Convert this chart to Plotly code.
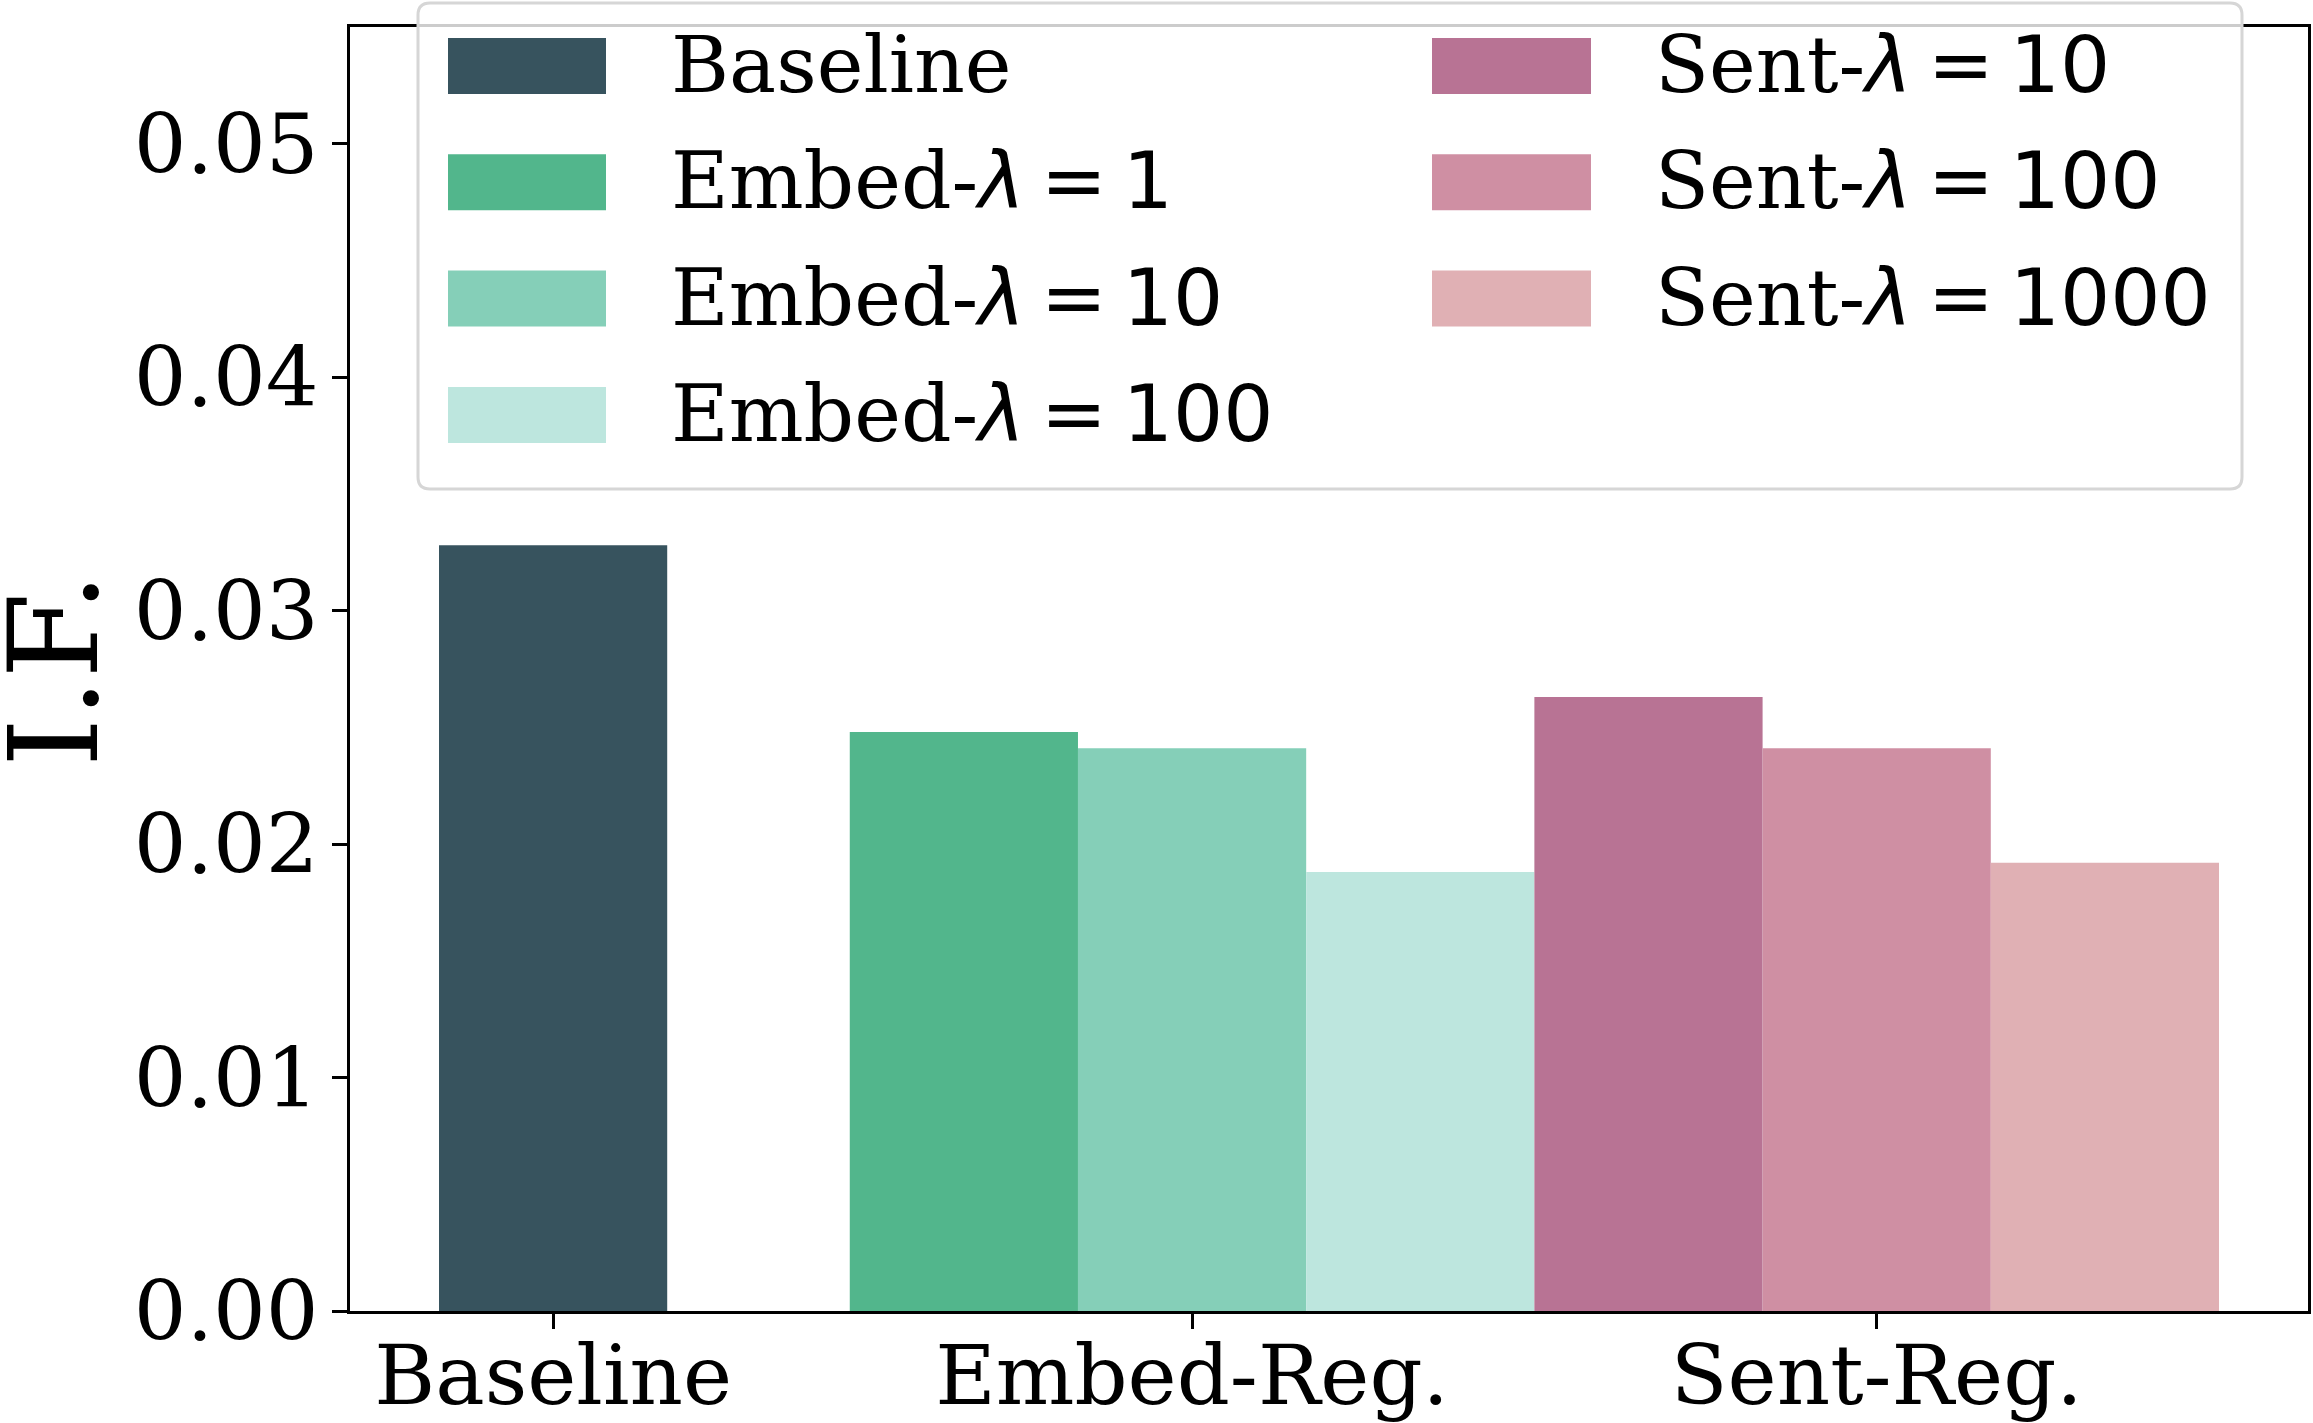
import plotly.graph_objects as go

# ---------------- data ----------------
categories = ["Baseline", "Embed-Reg.", "Sent-Reg."]
baseline_values = [0.0328]
embed_lambdas = [1, 10, 100]
embed_values = [0.0248, 0.0241, 0.0188]
sent_lambdas = [10, 100, 1000]
sent_values = [0.0263, 0.0241, 0.0192]
y_ticks = [0.00, 0.01, 0.02, 0.03, 0.04, 0.05]
y_label = "I.F."

# ---------------- styles ----------------
baseline_color = "#37535E"
embed_colors = ["#52B68C", "#85CFB8", "#BDE6DE"]
sent_colors = ["#B87394", "#CF8FA3", "#E0B0B4"]
SERIF = "DejaVu Serif"
SANS = "DejaVu Sans"
W, H = 2313, 1423
ML, MR, MT, MB = 350, 5, 27, 112

# group layout (in bar-width units)
group_starts = [0.0, 1.8, 4.8]
bar_w = 1.0

TS = "\u2009"  # thin space, like mathtext spacing


def lam_label(prefix, lam):
    return (f'{prefix}-<span style="font-family:{SANS}"><i>λ</i>{TS}={TS}{lam}</span>')


series = []  # (name, x, y, color)
series.append(("Baseline", group_starts[0], baseline_values[0], baseline_color))
for i, (lam, v) in enumerate(zip(embed_lambdas, embed_values)):
    series.append((lam_label("Embed", lam), group_starts[1] + i * bar_w, v, embed_colors[i]))
for i, (lam, v) in enumerate(zip(sent_lambdas, sent_values)):
    series.append((lam_label("Sent", lam), group_starts[2] + i * bar_w, v, sent_colors[i]))

fig = go.Figure()
for name, x, y, c in series:
    fig.add_trace(go.Bar(x=[x], y=[y], width=bar_w, name=name,
                         marker=dict(color=c, line=dict(width=0)),
                         showlegend=False))

tick_pos = [group_starts[0], group_starts[1] + bar_w, group_starts[2] + bar_w]
x_lo = -0.5 * bar_w
x_hi = group_starts[2] + 2.5 * bar_w
pad = 0.05 * (x_hi - x_lo)

axis_common = dict(showline=True, linecolor="black", linewidth=2.5, mirror=True,
                   ticks="outside", ticklen=15, tickwidth=2.5, tickcolor="black",
                   showgrid=False, zeroline=False,
                   tickfont=dict(family=SERIF, size=83, color="black"))

fig.update_xaxes(range=[x_lo - pad, x_hi + pad], tickvals=tick_pos,
                 ticktext=categories, ticklabelstandoff=-24, **axis_common)
fig.update_yaxes(range=[0, 0.055], tickvals=y_ticks, tickformat=".2f",
                 ticklabelstandoff=-3, **axis_common)

# ---------------- custom legend (matplotlib-like) ----------------
plot_w = W - ML - MR
plot_h = H - MT - MB


def px_x(p):
    return (p - ML) / plot_w


def px_y(p):
    return (H - MB - p) / plot_h


shapes = []
# legend frame (rounded, translucent)
x0, x1 = px_x(418), px_x(2242)
y0, y1 = px_y(489), px_y(3)
rx, ry = 12 / plot_w, 12 / plot_h
path = (f"M{x0+rx},{y1} L{x1-rx},{y1} Q{x1},{y1} {x1},{y1-ry} "
        f"L{x1},{y0+ry} Q{x1},{y0} {x1-rx},{y0} L{x0+rx},{y0} "
        f"Q{x0},{y0} {x0},{y0+ry} L{x0},{y1-ry} Q{x0},{y1} {x0+rx},{y1} Z")
shapes.append(dict(type="path", path=path, xref="paper", yref="paper",
                   fillcolor="rgba(255,255,255,0.8)",
                   line=dict(color="#D6D6D6", width=3), layer="above"))

legend_cols = [series[:4], series[4:]]
col_sw_x = [(448, 606), (1432, 1591)]
col_txt_x = [669, 1653]
row_c0, row_pitch, sw_h = 66, 116.3, 56

annotations = []
for ci, col in enumerate(legend_cols):
    for ri, (name, _, _, c) in enumerate(col):
        cy = row_c0 + ri * row_pitch
        shapes.append(dict(type="rect", xref="paper", yref="paper",
                           x0=px_x(col_sw_x[ci][0]), x1=px_x(col_sw_x[ci][1]),
                           y0=px_y(cy + sw_h / 2), y1=px_y(cy - sw_h / 2),
                           fillcolor=c, line=dict(width=0), layer="above"))
        annotations.append(dict(xref="paper", yref="paper", x=px_x(col_txt_x[ci]),
                                y=px_y(cy - 1), xanchor="left", yanchor="middle",
                                text=name, showarrow=False,
                                font=dict(family=SERIF, size=79, color="black")))

# y-axis title (placed like matplotlib's ylabel)
annotations.append(dict(xref="paper", yref="paper", x=px_x(54), y=px_y(670),
                        xanchor="center", yanchor="middle", textangle=-90,
                        text=y_label, showarrow=False,
                        font=dict(family=SERIF, size=124, color="black")))

fig.update_layout(width=W, height=H,
                  margin=dict(l=ML, r=MR, t=MT, b=MB, autoexpand=False),
                  plot_bgcolor="white", paper_bgcolor="white",
                  barmode="overlay", shapes=shapes, annotations=annotations,
                  showlegend=False)

fig.write_html("out.html")
